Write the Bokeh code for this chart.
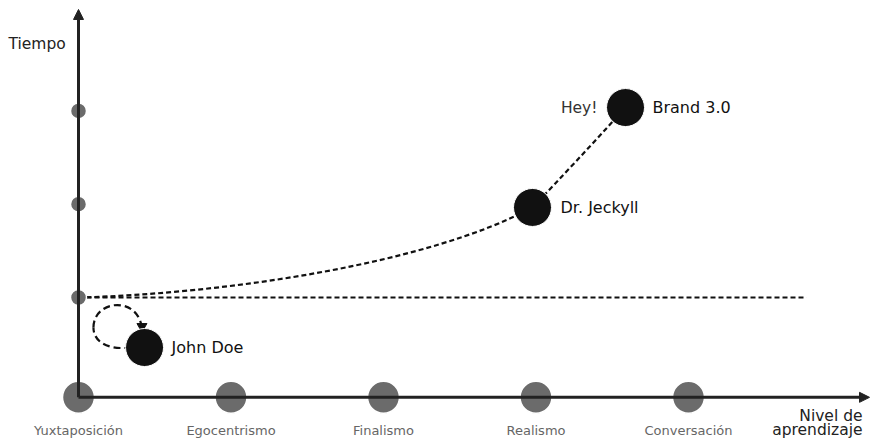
from bokeh.plotting import figure
from bokeh.models import Range1d, Arrow, NormalHead, ColumnDataSource
from bokeh.core.properties import value
from bokeh.embed import file_html
from bokeh.resources import INLINE

# ---- data ----
levels = ["Yuxtaposición", "Egocentrismo", "Finalismo", "Realismo", "Conversación"]
level_x = [0, 1, 2, 3, 4]
origin_y = -0.07
time_ticks = [1, 2, 3]

characters = ["John Doe", "Dr. Jeckyll", "Brand 3.0"]
char_x = [0.433, 2.977, 3.587]
char_y = [0.464, 1.965, 3.036]

# path of evolution (start -> Dr. Jeckyll -> Brand 3.0)
path_c1 = (0.997, 1.043)
path_c2 = (2.308, 1.375)
path_q = (3.259, 2.447)
baseline_end_x = 4.774

# small self-loop near John Doe
loop_x0 = [0.348, 0.098]
loop_y0 = [0.464, 0.678]
loop_x1 = [0.098, 0.413]
loop_y1 = [0.678, 0.700]
loop_cx0 = [0.177, 0.098]
loop_cy0 = [0.432, 0.968]
loop_cx1 = [0.098, 0.374]
loop_cy1 = [0.539, 1.021]
loop_head = (0.416, 0.690)

y_axis_top = 4.087
x_axis_end = 5.187

FONT = value("DejaVu Sans")
DARK = "#222222"

p = figure(width=871, height=443, x_range=Range1d(-0.51148, 5.2),
           y_range=Range1d(-0.56485, 4.18328), output_backend="svg",
           toolbar_location=None, x_axis_type=None, y_axis_type=None,
           min_border=0)
p.outline_line_color = None
p.xgrid.visible = False
p.ygrid.visible = False

# axes as arrows
p.add_layout(Arrow(end=NormalHead(size=10, fill_color=DARK, line_color=DARK),
                   x_start=level_x[0], y_start=origin_y, x_end=level_x[0], y_end=y_axis_top,
                   line_width=3, line_color=DARK))
p.add_layout(Arrow(end=NormalHead(size=10, fill_color=DARK, line_color=DARK),
                   x_start=level_x[0], y_start=origin_y, x_end=x_axis_end, y_end=origin_y,
                   line_width=3, line_color=DARK))

# dashed baseline at first time tick
p.line([level_x[0], baseline_end_x], [time_ticks[0], time_ticks[0]],
       line_dash="5 3", line_width=2.2, line_color="#111111")

# evolution curve
p.bezier(x0=[level_x[0]], y0=[time_ticks[0]], x1=[char_x[1]], y1=[char_y[1]],
         cx0=[path_c1[0]], cy0=[path_c1[1]], cx1=[path_c2[0]], cy1=[path_c2[1]],
         line_dash="5 3", line_width=2.2, line_color="#111111")
p.quadratic(x0=[char_x[1]], y0=[char_y[1]], x1=[char_x[2]], y1=[char_y[2]],
            cx=[path_q[0]], cy=[path_q[1]],
            line_dash="5 3", line_width=2.2, line_color="#111111")

# self loop
p.bezier(x0=loop_x0, y0=loop_y0, x1=loop_x1, y1=loop_y1,
         cx0=loop_cx0, cy0=loop_cy0, cx1=loop_cx1, cy1=loop_cy1,
         line_dash="7 4", line_width=2.2, line_color="#111111")
p.scatter([loop_head[0]], [loop_head[1]], marker="inverted_triangle", size=10,
          fill_color="#111111", line_color="#111111")

# tick circles on time axis
p.scatter([level_x[0]] * len(time_ticks), time_ticks, size=16, fill_color="#6b6b6b",
          line_color="white", line_width=1.5)

# level circles
p.scatter(level_x, [origin_y] * len(level_x), size=32, fill_color="#6b6b6b",
          line_color="white", line_width=1.5)

# character circles
p.scatter(char_x, char_y, size=38, fill_color="#111111", line_color="white", line_width=1)

# level labels
lab_src = ColumnDataSource(dict(x=level_x, y=[-0.428] * len(level_x), t=levels))
p.text(x="x", y="y", text="t", source=lab_src, text_align="center",
       text_baseline="middle", text_font=FONT, text_font_size="13px",
       text_color="#666666")

# character labels
char_label_x = [0.610, 3.161, 3.764]
ch_src = ColumnDataSource(dict(x=char_label_x, y=char_y, t=characters))
p.text(x="x", y="y", text="t", source=ch_src, text_align="left",
       text_baseline="middle", text_font=FONT, text_font_size="16px",
       text_color="#111111")

p.text(x=[3.403], y=[char_y[2]], text=["Hey!"], text_align="right",
       text_baseline="middle", text_font=FONT, text_font_size="15.5px",
       text_color="#333333")

# axis titles
p.text(x=[-0.459], y=[3.722], text=["Tiempo"], text_align="left",
       text_baseline="middle", text_font=FONT, text_font_size="15.5px",
       text_color="#222222")
p.text(x=[5.141, 5.141], y=[-0.270, -0.420], text=["Nivel de", "aprendizaje"],
       text_align="right", text_baseline="middle", text_font=FONT,
       text_font_size="15.5px", text_color="#222222")

open("out.html", "w").write(file_html(p, INLINE))
